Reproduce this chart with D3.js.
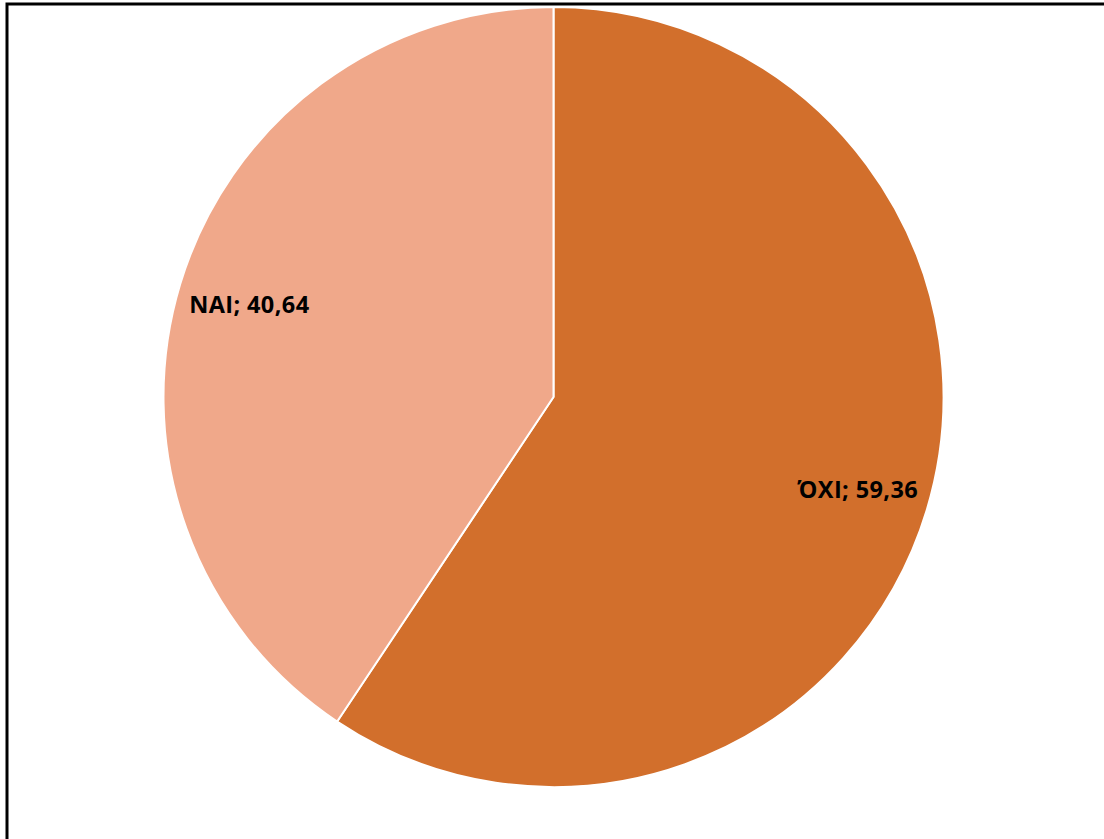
<!DOCTYPE html>
<html>
<head>
<meta charset="utf-8">
<script src="https://cdn.jsdelivr.net/npm/d3@7"></script>
<style>
  html, body { margin: 0; padding: 0; background: #fff; overflow: hidden; }
  svg { display: block; }
</style>
</head>
<body>
<svg id="chart" width="1104" height="839"></svg>
<script>
// Answers and their shares (%)
const categories = ["ΌΧΙ", "NAI"];
const values = [59.36, 40.64];
const labels = ["ΌΧΙ; 59,36", "NAI; 40,64"];
const colors = ["#D26F2C", "#F0A88A"];

const width = 1104, height = 839;
const svg = d3.select("#chart");

// Outer frame (runs past the right and bottom edges)
svg.append("rect")
  .attr("x", 7).attr("y", 4)
  .attr("width", 1110).attr("height", 850)
  .attr("fill", "#fff")
  .attr("stroke", "#000")
  .attr("stroke-width", 3);

const cx = 553.5, cy = 397, r = 390;
const g = svg.append("g").attr("transform", `translate(${cx},${cy})`);

const data = categories.map((c, i) => ({ cat: c, value: values[i], label: labels[i], color: colors[i] }));

const pie = d3.pie().value(d => d.value).sort(null);
const arcs = pie(data);

const arc = d3.arc().innerRadius(0).outerRadius(r);
const labelArc = d3.arc().innerRadius(r * 0.815).outerRadius(r * 0.815);

g.selectAll("path.slice")
  .data(arcs)
  .join("path")
  .attr("class", "slice")
  .attr("d", arc)
  .attr("fill", d => d.data.color)
  .attr("stroke", "#fff")
  .attr("stroke-width", 2)
  .attr("stroke-linejoin", "round");

g.selectAll("text.lbl")
  .data(arcs)
  .join("text")
  .attr("class", "lbl")
  .attr("x", d => labelArc.centroid(d)[0])
  .attr("y", d => labelArc.centroid(d)[1] + 8.5)
  .attr("text-anchor", "middle")
  .attr("font-family", "'Open Sans', 'DejaVu Sans', sans-serif")
  .attr("font-weight", "bold")
  .attr("font-size", 23.5)
  .attr("letter-spacing", 0.4)
  .attr("fill", "#000")
  .text(d => d.data.label);
</script>
</body>
</html>
